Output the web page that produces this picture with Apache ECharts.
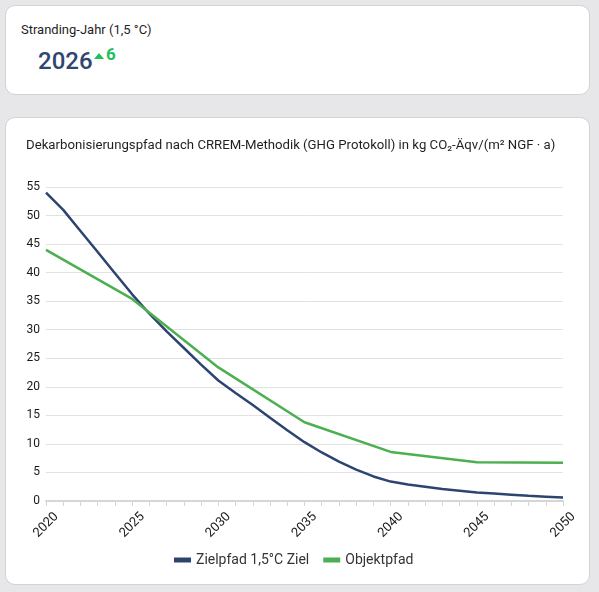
<!DOCTYPE html>
<html>
<head>
<meta charset="utf-8">
<script src="https://cdn.jsdelivr.net/npm/echarts@6/dist/echarts.min.js"></script>
<style>
  html, body { margin: 0; padding: 0; }
  body {
    width: 599px; height: 592px;
    background: #e7e7e9;
    font-family: Roboto, "Noto Sans", sans-serif;
    position: relative; overflow: hidden;
  }
  .card {
    position: absolute;
    left: 5px; width: 585px;
    background: #fff;
    border: 1px solid #d3d3d6;
    border-radius: 10px;
    box-sizing: border-box;
  }
  .card-top { top: 5px; height: 90px; }
  .card-chart { top: 117px; height: 468px; }
  .kpi-title {
    position: absolute; left: 15px; top: 16px;
    font-size: 13px; color: #1f1f1f;
  }
  .kpi-value {
    position: absolute; left: 32px; top: 41px;
    font-size: 24px; font-weight: 500; color: #2f4670;
  }
  .kpi-tri {
    position: absolute; left: 88px; top: 47px;
    width: 0; height: 0;
    border-left: 5px solid transparent;
    border-right: 5px solid transparent;
    border-bottom: 6px solid #1fc05a;
  }
  .kpi-delta {
    position: absolute; left: 100px; top: 38px;
    font-size: 17px; font-weight: 700; color: #1fc05a;
  }
  #chart { position: absolute; left: 0; top: 0; width: 585px; height: 468px; }
</style>
</head>
<body>
<div class="card card-top">
  <div class="kpi-title">Stranding-Jahr (1,5 °C)</div>
  <div class="kpi-value">2026</div>
  <div class="kpi-tri"></div>
  <div class="kpi-delta">6</div>
</div>
<div class="card card-chart">
  <div id="chart"></div>
</div>
<script>
// Jahre 2020..2050
const years = ["2020","2021","2022","2023","2024","2025","2026","2027","2028","2029",
  "2030","2031","2032","2033","2034","2035","2036","2037","2038","2039",
  "2040","2041","2042","2043","2044","2045","2046","2047","2048","2049","2050"];

// Zielpfad 1,5°C (jährlich)
const zielpfad = [54, 51, 47.3, 43.6, 39.9, 36.2, 32.8, 29.7, 26.8, 23.9,
  21.1, 18.9, 16.8, 14.6, 12.4, 10.3, 8.5, 6.9, 5.5, 4.3,
  3.4, 2.9, 2.5, 2.1, 1.8, 1.5, 1.3, 1.1, 0.9, 0.75, 0.6];

// Objektpfad (nur 5-Jahres-Stützstellen)
const objektpfad = [44, null, null, null, null, 35.4, null, null, null, null,
  23.4, null, null, null, null, 13.8, null, null, null, null,
  8.6, null, null, null, null, 6.8, null, null, null, null, 6.7];

const chart = echarts.init(document.getElementById("chart"));
chart.setOption({
  animation: false,
  textStyle: { fontFamily: "Roboto" },
  title: {
    text: "Dekarbonisierungspfad nach CRREM-Methodik (GHG Protokoll) in kg CO₂-Äqv/(m² NGF · a)",
    left: 15, top: 16,
    textStyle: { fontSize: 13.2, fontWeight: "normal", color: "#1f1f1f", fontFamily: "Roboto" }
  },
  legend: {
    left: 163, top: 430,
    icon: "rect", itemWidth: 17, itemHeight: 5, itemGap: 14,
    textStyle: { fontSize: 14, color: "#333", fontFamily: "Roboto" },
    data: ["Zielpfad 1,5°C Ziel", "Objektpfad"]
  },
  grid: { left: 40, right: 28, top: 69, bottom: 85 },
  xAxis: {
    type: "category",
    data: years,
    boundaryGap: false,
    axisLine: { lineStyle: { color: "#d6d6d6", width: 2 } },
    axisTick: { interval: 0, length: 5, lineStyle: { color: "#d6d6d6" } },
    axisLabel: {
      interval: 4, rotate: 45, fontSize: 13, color: "#1a1a1a", margin: 24,
      align: "center", verticalAlign: "middle"
    }
  },
  yAxis: {
    type: "value",
    min: 0, max: 55, interval: 5,
    axisLine: { show: false },
    axisTick: { show: false },
    axisLabel: { fontSize: 12, color: "#1a1a1a", margin: 6 },
    splitLine: { lineStyle: { color: "#e2e2e2", width: 1 } }
  },
  series: [
    {
      name: "Zielpfad 1,5°C Ziel",
      type: "line",
      data: zielpfad,
      showSymbol: false,
      symbol: "none",
      lineStyle: { color: "#2d4470", width: 2.5 },
      itemStyle: { color: "#2d4470" }
    },
    {
      name: "Objektpfad",
      type: "line",
      data: objektpfad,
      connectNulls: true,
      showSymbol: false,
      symbol: "none",
      lineStyle: { color: "#4caf50", width: 2.5 },
      itemStyle: { color: "#4caf50" }
    }
  ]
});
</script>
</body>
</html>
